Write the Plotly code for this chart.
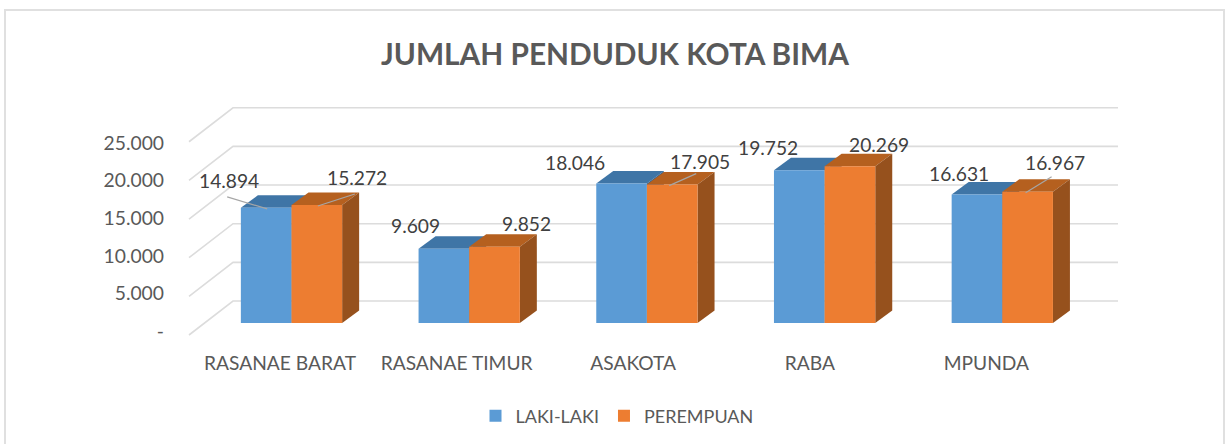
import plotly.graph_objects as go

categories = ["RASANAE BARAT", "RASANAE TIMUR", "ASAKOTA", "RABA", "MPUNDA"]
laki = [14894, 9609, 18046, 19752, 16631]
perempuan = [15272, 9852, 17905, 20269, 16967]
grid_values = [0, 5000, 10000, 15000, 20000, 25000]
tick_text = ["-", "5.000", "10.000", "15.000", "20.000", "25.000"]

W, H = 1225, 444
PL, PR, PT, PB = 165, 1125, 90, 350   # plot box in page pixels
X0_PX, X_STEP = 291.5, 177.7          # first group centre, px per category
Y0_PX, Y_SCALE = 323.0, 0.00773       # bar base, px per unit
LABEL_Y0, LABEL_SCALE = 331.0, 0.00752

BAR_W = 0.285
DX, DY = 17 / X_STEP, 12.5 / Y_SCALE
C_BLUE, C_ORANGE = "#5B9BD5", "#ED7D31"
C_BLUE_TOP, C_ORANGE_TOP = "#3F75A6", "#B5601F"
C_BLUE_SIDE, C_ORANGE_SIDE = "#36628C", "#96511D"
GRID = "#DCDCDC"
TEXT = "#595959"
FONT = "Lato"

px_x = lambda p: (p - X0_PX) / X_STEP
px_dx = lambda p: p / X_STEP
px_dy = lambda p: p / Y_SCALE

x_range = [px_x(PL), px_x(PR)]
y_range = [(Y0_PX - PB) / Y_SCALE, (Y0_PX - PT) / Y_SCALE]
y2_range = [(LABEL_Y0 - PB) / LABEL_SCALE, (LABEL_Y0 - PT) / LABEL_SCALE]

fig = go.Figure()

# floor/wall grid lines
for v in grid_values:
    fig.add_trace(go.Scatter(
        x=[px_x(189), px_x(233), px_x(1118)],
        y=[v - px_dy(12), v + px_dy(22), v + px_dy(22)],
        mode="lines", line=dict(color=GRID, width=1.6),
        showlegend=False, hoverinfo="skip", yaxis="y"))


def faces(center, value, top_c, side_c):
    l, r = center, center + BAR_W
    fig.add_trace(go.Scatter(
        x=[l, r, r + DX, l + DX, l], y=[value, value, value + DY, value + DY, value],
        fill="toself", fillcolor=top_c, mode="none",
        showlegend=False, hoverinfo="skip", yaxis="y"))
    fig.add_trace(go.Scatter(
        x=[r, r + DX, r + DX, r, r], y=[0, DY, value + DY, value, 0],
        fill="toself", fillcolor=side_c, mode="none",
        showlegend=False, hoverinfo="skip", yaxis="y"))


for i in range(len(categories)):
    faces(i - BAR_W, laki[i], C_BLUE_TOP, C_BLUE_SIDE)
for i in range(len(categories)):
    faces(i, perempuan[i], C_ORANGE_TOP, C_ORANGE_SIDE)

# front faces
idx = list(range(len(categories)))
fig.add_trace(go.Bar(x=idx, y=laki, name="LAKI-LAKI", marker=dict(color=C_BLUE, line_width=0),
                     yaxis="y3", width=BAR_W, offset=-BAR_W))
fig.add_trace(go.Bar(x=idx, y=perempuan, name="PEREMPUAN", marker=dict(color=C_ORANGE, line_width=0),
                     yaxis="y3", width=BAR_W, offset=0))

# invisible trace that carries the tick-label axis
fig.add_trace(go.Scatter(x=[0], y=[0], mode="none", showlegend=False, hoverinfo="skip", yaxis="y2"))

# data labels: (dx px, up px) from the bar's front top centre
label_off_l = [(-37, 27), (-28, 23), (-47, 21), (-31, 23), (-18, 21)]
label_off_p = [(40, 27), (32, 23), (28, 23), (29, 22), (27, 29)]
annotations = []


def fmt(v):
    return f"{v:,}".replace(",", ".")


for i in idx:
    for vals, off, sgn in ((laki, label_off_l, -1), (perempuan, label_off_p, 1)):
        annotations.append(dict(
            x=i + sgn * BAR_W / 2, y=vals[i], xref="x", yref="y3",
            xanchor="center", yanchor="middle",
            text=fmt(vals[i]), showarrow=False, xshift=off[i][0], yshift=off[i][1],
            font=dict(family=FONT, size=19.2, color="#404040")))

# leader lines: series, index, (dx1, up1, dx2, up2) in px from front top centre
leaders = [(laki, 0, -1, (-39, 11, 1, -1)), (perempuan, 0, 1, (1, -1, 38, 11)),
           (perempuan, 2, 1, (-3, -1, 24, 11)), (perempuan, 4, 1, (-2, -1, 24, 15))]
for vals, i, sgn, (a, b, c, d) in leaders:
    cx = i + sgn * BAR_W / 2
    fig.add_trace(go.Scatter(
        x=[cx + px_dx(a), cx + px_dx(c)],
        y=[vals[i] + px_dy(b), vals[i] + px_dy(d)],
        mode="lines", line=dict(color="#A6A6A6", width=1.2),
        showlegend=False, hoverinfo="skip", yaxis="y3"))

annotations.append(dict(
    x=614.5 / W, y=1 - 54 / H, xref="paper", yref="paper", showarrow=False,
    xanchor="center", yanchor="middle",
    text="<b>JUMLAH PENDUDUK KOTA BIMA</b>",
    font=dict(family=FONT, size=29.8, color=TEXT)))

x_ticks = [(280 + 176.6 * i - X0_PX) / X_STEP for i in idx]

fig.update_layout(
    width=W, height=H, margin=dict(l=0, r=0, t=0, b=0),
    paper_bgcolor="white", plot_bgcolor="rgba(0,0,0,0)",
    barmode="overlay",
    font=dict(family=FONT, size=17, color=TEXT),
    annotations=annotations,
    xaxis=dict(domain=[PL / W, PR / W], range=x_range, tickmode="array", tickvals=x_ticks,
               ticktext=categories, showgrid=False, zeroline=False, showline=False, ticks="",
               tickfont=dict(family=FONT, size=19.2, color=TEXT)),
    yaxis=dict(domain=[1 - PB / H, 1 - PT / H], range=y_range, visible=False),
    yaxis3=dict(domain=[1 - PB / H, 1 - PT / H], range=y_range, visible=False, overlaying="y"),
    yaxis2=dict(range=y2_range, overlaying="y", anchor="x", side="left",
                tickmode="array", tickvals=grid_values, ticktext=tick_text,
                showgrid=False, zeroline=False, showline=False, ticks="",
                tickfont=dict(family=FONT, size=19.3, color=TEXT)),
    legend=dict(orientation="h", x=617 / W, xanchor="center", y=1 - 416 / H, yanchor="middle",
                font=dict(family=FONT, size=18, color=TEXT), bgcolor="rgba(0,0,0,0)"),
    shapes=[dict(type="rect", xref="paper", yref="paper", x0=5 / W, x1=1224 / W,
                 y0=-0.02, y1=1 - 10 / H, line=dict(color="#E0E0E0", width=2),
                 fillcolor="rgba(0,0,0,0)", layer="below")],
)

fig.write_html("out.html", config={"displayModeBar": False},
               post_script="document.body.style.margin='0';")
